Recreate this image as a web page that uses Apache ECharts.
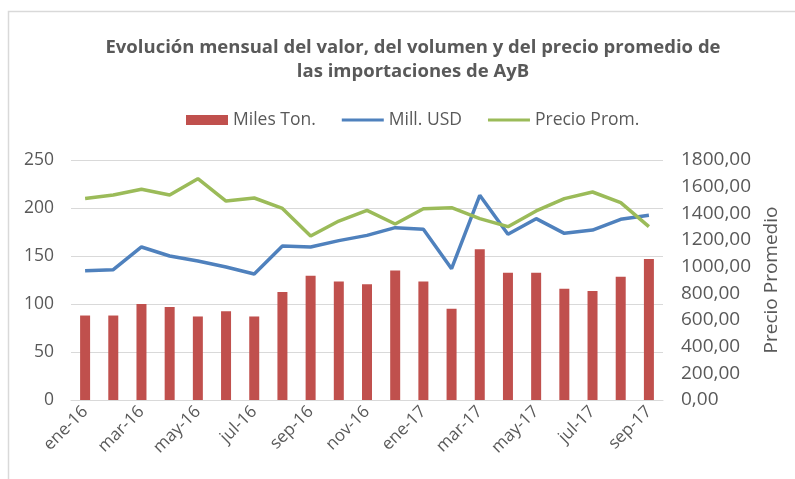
<!DOCTYPE html>
<html>
<head>
<meta charset="utf-8">
<script src="https://cdn.jsdelivr.net/npm/echarts@6/dist/echarts.min.js"></script>
<style>
  html, body { margin: 0; padding: 0; background: #fff; }
  #chart { width: 795px; height: 479px; }
</style>
</head>
<body>
<div id="chart"></div>
<script>
// meses
const months = ['ene-16', 'feb-16', 'mar-16', 'abr-16', 'may-16', 'jun-16', 'jul-16', 'ago-16', 'sep-16', 'oct-16', 'nov-16', 'dic-16',
  'ene-17', 'feb-17', 'mar-17', 'abr-17', 'may-17', 'jun-17', 'jul-17', 'ago-17', 'sep-17'];
// Miles Ton. (barras)
const milesTon = [88, 88, 100, 97, 87, 92.5, 87, 112.5, 129.5, 123.5, 120.5, 135, 123.5, 95, 157, 132.5, 132.5, 116, 113.5, 128.5, 147];
// Mill. USD (eje izquierdo)
const millUsd = [134.7, 135.8, 159.4, 150, 144.8, 138.5, 131.2, 160.4, 159.4, 166, 171.5, 179.5, 177.8, 136.8, 213.2, 172.6, 188.9, 173.6, 177, 188.2, 192.4];
// Precio Prom. (eje derecho)
const precioProm = [1512, 1537, 1580, 1537, 1660, 1492, 1515, 1437, 1230, 1342, 1422, 1320, 1435, 1442, 1360, 1300, 1418, 1510, 1560, 1480, 1300];

const txt = '#595959';
const gridCol = '#d9d9d9';
const font = 'Open Sans';

let myChart = echarts.init(document.getElementById('chart'));
myChart.setOption({
  animation: false,
  textStyle: { fontFamily: font },
  title: {
    text: 'Evolución mensual del valor, del volumen y del precio promedio de\nlas importaciones de AyB',
    left: 408,
    top: 31,
    textAlign: 'center',
    textStyle: { fontSize: 18.5, fontWeight: 'bold', color: txt, lineHeight: 24, fontFamily: font }
  },
  graphic: [{
    type: 'rect',
    shape: { x: 8.5, y: 11.5, width: 820, height: 500 },
    style: { fill: 'none', stroke: gridCol, lineWidth: 1.5 },
    silent: true
  }],
  legend: {
    top: 106,
    left: 181,
    itemGap: 26,
    itemWidth: 42,
    itemHeight: 10,
    textStyle: { fontSize: 17.5, color: txt },
    data: [
      { name: 'Miles Ton.', icon: 'rect' },
      { name: 'Mill. USD', icon: 'path://M0,0 L42,0 L42,3 L0,3 Z' },
      { name: 'Precio Prom.', icon: 'path://M0,0 L42,0 L42,3 L0,3 Z' }
    ]
  },
  grid: { left: 71, right: 132, top: 160, bottom: 79 },
  xAxis: {
    type: 'category',
    data: months,
    axisLine: { lineStyle: { color: gridCol, width: 1 } },
    axisTick: { show: false },
    axisLabel: { interval: 1, rotate: 45, fontSize: 17, color: txt, margin: 9 }
  },
  yAxis: [
    {
      type: 'value',
      min: 0, max: 250, interval: 50,
      axisLine: { show: false },
      axisTick: { show: false },
      splitLine: { lineStyle: { color: gridCol, width: 1 } },
      axisLabel: { fontSize: 17.5, color: txt, margin: 17 }
    },
    {
      type: 'value',
      min: 0, max: 1800, interval: 200,
      name: 'Precio Promedio',
      nameLocation: 'middle',
      nameRotate: 90,
      nameGap: 96,
      nameTextStyle: { fontSize: 19, color: txt },
      axisLine: { show: false },
      axisTick: { show: false },
      splitLine: { show: false },
      axisLabel: {
        fontSize: 19, color: txt, margin: 18,
        formatter: function (v) { return v.toFixed(2).replace('.', ','); }
      }
    }
  ],
  series: [
    {
      name: 'Miles Ton.',
      type: 'bar',
      barWidth: 10,
      itemStyle: { color: '#C0504D' },
      data: milesTon
    },
    {
      name: 'Mill. USD',
      type: 'line',
      symbol: 'none',
      lineStyle: { width: 3.5, color: '#4F81BD' },
      itemStyle: { color: '#4F81BD' },
      data: millUsd
    },
    {
      name: 'Precio Prom.',
      type: 'line',
      yAxisIndex: 1,
      symbol: 'none',
      lineStyle: { width: 3.5, color: '#9BBB59' },
      itemStyle: { color: '#9BBB59' },
      data: precioProm
    }
  ]
});
</script>
</body>
</html>
